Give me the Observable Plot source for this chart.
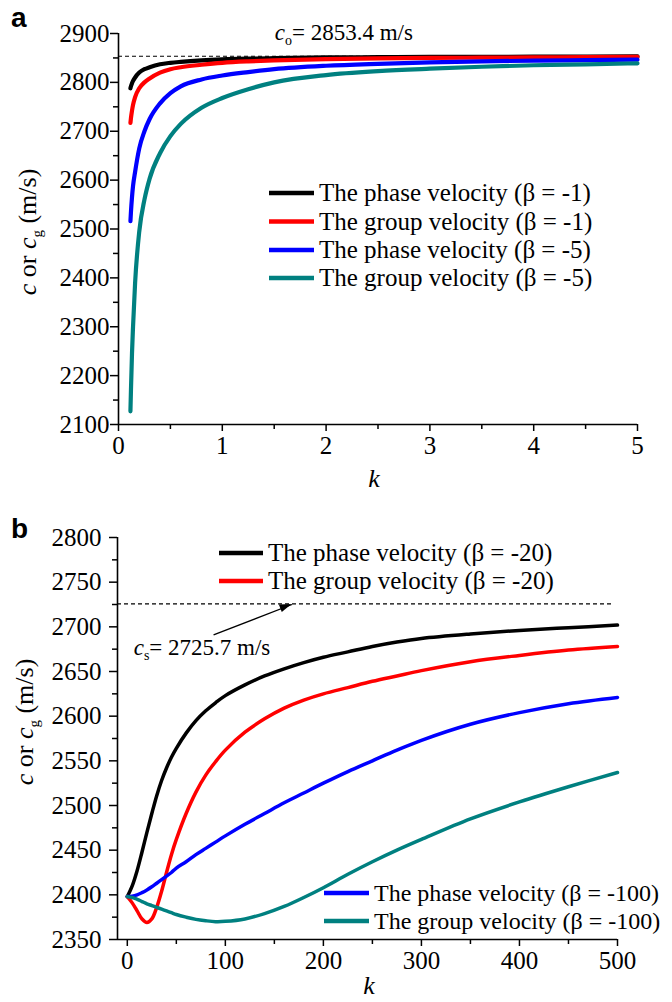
<!DOCTYPE html>
<html><head><meta charset="utf-8">
<script src="https://cdn.jsdelivr.net/npm/d3@7"></script>
<script src="https://cdn.jsdelivr.net/npm/@observablehq/plot@0.6"></script>
<style>
body{margin:0;background:#fff;}
#wrap{position:relative;width:672px;height:1002px;overflow:hidden;background:#fff;}
svg{display:block;}
</style></head><body><div id="wrap"></div>
<script>
// ---------- DATA: panel a ----------
const kA = [0.115, 0.12, 0.13, 0.14, 0.16, 0.2, 0.25, 0.3, 0.4, 0.5, 0.6, 0.8, 1.0, 1.25, 1.5, 2, 2.5, 3, 3.5, 4, 4.5, 5];
const phaseA1 = [2788, 2792, 2798, 2803, 2810, 2820, 2827, 2831, 2837, 2840, 2842, 2845, 2847, 2848.5, 2849.5, 2851, 2851.5, 2852, 2852, 2852.5, 2852.5, 2853];
const groupA1 = [2717, 2727, 2742, 2754, 2770, 2788, 2800, 2808, 2820, 2827, 2831, 2836, 2840, 2843, 2845, 2847.5, 2849, 2850, 2850.5, 2851, 2851.5, 2852];
const phaseA5 = [2516, 2535, 2565, 2588, 2617, 2665, 2700, 2725, 2757, 2778, 2792, 2806, 2814, 2821, 2827, 2834, 2838, 2841, 2843, 2844.5, 2845.5, 2846.5];
const groupA5 = [2127, 2170, 2245, 2300, 2390, 2495, 2560, 2603, 2655, 2690, 2715, 2748, 2768, 2786, 2800, 2815, 2823, 2828, 2832, 2835, 2837, 2839];
const legendA = ["The phase velocity (β = -1)", "The group velocity (β = -1)", "The phase velocity (β = -5)", "The group velocity (β = -5)"];
const cO = 2853.4;
const coLabel = {k: 1.51, c: 2885};
const xTicksA = [0, 1, 2, 3, 4, 5];
const xMinorA = [0.5, 1.5, 2.5, 3.5, 4.5];
const yTicksA = [2100, 2200, 2300, 2400, 2500, 2600, 2700, 2800, 2900];
const yMinorA = [2150, 2250, 2350, 2450, 2550, 2650, 2750, 2850];

// ---------- DATA: panel b ----------
const kB = [0, 5, 10, 15, 20, 25, 30, 35, 40, 45, 50, 60, 70, 80, 90, 100, 120, 140, 160, 180, 200, 225, 250, 275, 300, 350, 400, 450, 500];
const phaseB20 = [2398, 2410, 2427, 2448, 2470, 2491, 2511, 2528, 2542, 2554, 2564, 2581, 2595, 2606, 2615, 2623, 2635, 2645, 2653, 2660, 2666, 2672, 2678, 2683, 2687, 2692, 2696, 2699, 2702];
const groupB20 = [2398, 2391, 2382, 2373, 2369, 2373, 2386, 2404, 2425, 2445, 2462, 2491, 2515, 2534, 2549, 2562, 2582, 2597, 2609, 2618, 2625, 2632, 2639, 2645, 2651, 2661, 2668, 2674, 2678];
const phaseB100 = [2398, 2398.5, 2400, 2402.5, 2405.5, 2409, 2413, 2417, 2421, 2425, 2430, 2437, 2445, 2452, 2459, 2466, 2479, 2491, 2503, 2514, 2525, 2538, 2550, 2562, 2573, 2591, 2604, 2614, 2621];
const groupB100 = [2398, 2397, 2395, 2392.5, 2390, 2388, 2386, 2384, 2382, 2380, 2378, 2375, 2372.5, 2371, 2370, 2370.3, 2373, 2379, 2387, 2397, 2408, 2423, 2437, 2450, 2462, 2485, 2504, 2521, 2537];
const legendB = ["The phase velocity (β = -20)", "The group velocity (β = -20)", "The phase velocity (β = -100)", "The group velocity (β = -100)"];
const cS = 2725.7;
const cSExtent = [-10, 495];
const csLabel = {k: 7, c: 2668};
const arrowB = [{x1: 88, y1: 2691, x2: 168, y2: 2725}];
const xTicksB = [0, 100, 200, 300, 400, 500];
const xMinorB = [50, 150, 250, 350, 450];
const yTicksB = [2350, 2400, 2450, 2500, 2550, 2600, 2650, 2700, 2750, 2800];
const yMinorB = [2375, 2425, 2475, 2525, 2575, 2625, 2675, 2725, 2775];

const colors = ["#000000", "#ff0000", "#0000ff", "#008080"];
const SERIF = "'Liberation Serif', 'Times New Roman', Times, serif";
const SANS = "'Liberation Sans', Arial, Helvetica, sans-serif";

function rows(ks, vals) { return ks.map((k, i) => ({k, c: vals[i]})); }

function axes(xt, xm, yt, ym, xdom, ydom, yPad) {
  return [
    Plot.axisY({ticks: yt, tickSize: 8, tickPadding: yPad, fontSize: 25, strokeWidth: 1.5, label: null, tickFormat: d => String(d)}),
    Plot.axisY({ticks: ym, tickSize: 5, strokeWidth: 1.5, label: null, tickFormat: () => ""}),
    Plot.axisX({ticks: xt, tickSize: 7, tickPadding: 5, fontSize: 25, strokeWidth: 1.5, label: null, tickFormat: d => String(d)}),
    Plot.axisX({ticks: xm, tickSize: 5, strokeWidth: 1.5, label: null, tickFormat: () => ""}),
    Plot.ruleX([xdom[0]], {y1: ydom[0], y2: ydom[1], strokeWidth: 1.6}),
    Plot.ruleY([ydom[0]], {x1: xdom[0], x2: xdom[1], strokeWidth: 1.6})
  ];
}

function txt(g, x, y, size) {
  return g.append("text").attr("x", x).attr("y", y).attr("text-anchor", "start")
    .attr("font-size", size).attr("font-family", SERIF).attr("fill", "black");
}

function yLabel(g, x, y) {
  const t = g.append("text").attr("transform", `translate(${x},${y}) rotate(-90)`)
    .attr("text-anchor", "middle").attr("font-size", 26).attr("font-family", SERIF).attr("fill", "black");
  t.append("tspan").attr("font-style", "italic").text("c");
  t.append("tspan").text(" or ");
  t.append("tspan").attr("font-style", "italic").text("c");
  t.append("tspan").attr("font-size", 15).attr("dy", 6).text("g");
  t.append("tspan").attr("dy", -6).text(" (m/s)");
}

function legend(g, items, cols, x1, x2, ys, fs) {
  items.forEach((label, i) => {
    g.append("line").attr("x1", x1).attr("x2", x2).attr("y1", ys[i]).attr("y2", ys[i])
      .attr("stroke", cols[i]).attr("stroke-width", 4.5);
    txt(g, x2 + 5, ys[i], fs).attr("dy", "0.33em").text(label);
  });
}

function annotation(g, x, y, sub, rest) {
  const t = txt(g, x, y, 23);
  t.append("tspan").attr("font-style", "italic").text("c");
  t.append("tspan").attr("font-size", 14).attr("dy", 5).text(sub);
  t.append("tspan").attr("dy", -5).text(rest);
}

const wrap = document.getElementById("wrap");

// ---------- Panel a ----------
const seriesA = [phaseA1, groupA1, phaseA5, groupA5];
const xdA = [0, 5], ydA = [2100, 2900];
const plotA = Plot.plot({
  width: 672, height: 500,
  marginLeft: 118, marginRight: 35, marginTop: 33, marginBottom: 76,
  style: {fontFamily: SERIF, fontSize: "25px", background: "white", overflow: "visible", color: "black"},
  x: {domain: xdA}, y: {domain: ydA},
  marks: [
    Plot.ruleY([cO], {x1: xdA[0], x2: xdA[1], stroke: "black", strokeWidth: 1.1, strokeDasharray: "4,3"}),
    ...seriesA.map((v, j) => Plot.line(rows(kA, v), {x: "k", y: "c", stroke: colors[j], strokeWidth: 4.2, curve: "monotone-x"})),
    ...axes(xTicksA, xMinorA, yTicksA, yMinorA, xdA, ydA, 1)
  ]
});
wrap.appendChild(plotA);
{
  const g = d3.select(plotA).append("g");
  const sx = plotA.scale("x"), sy = plotA.scale("y");
  g.append("text").attr("x", 11).attr("y", 27).attr("text-anchor", "start").attr("font-family", SANS)
    .attr("font-weight", "bold").attr("font-size", 28).text("a");
  yLabel(g, 36, 232);
  g.append("text").attr("x", 374).attr("y", 487).attr("text-anchor", "middle").attr("font-style", "italic")
    .attr("font-size", 26).attr("font-family", SERIF).text("k");
  annotation(g, sx.apply(coLabel.k), sy.apply(coLabel.c), "o", "= 2853.4 m/s");
  legend(g, legendA, colors, 269, 314, [193, 221.5, 250, 278], 25);
}

// ---------- Panel b ----------
const seriesB = [phaseB20, groupB20, phaseB100, groupB100];
const xdB = [-10, 500], ydB = [2350, 2800];
const plotB = Plot.plot({
  width: 672, height: 502,
  marginLeft: 117, marginRight: 55, marginTop: 37, marginBottom: 63,
  style: {fontFamily: SERIF, fontSize: "25px", background: "white", overflow: "visible", color: "black"},
  x: {domain: xdB}, y: {domain: ydB},
  marks: [
    Plot.ruleY([cS], {x1: cSExtent[0], x2: cSExtent[1], stroke: "black", strokeWidth: 1.1, strokeDasharray: "4,3"}),
    Plot.link(arrowB, {x1: "x1", y1: "y1", x2: "x2", y2: "y2", stroke: "black", strokeWidth: 1.3}),
    ...seriesB.map((v, j) => Plot.line(rows(kB, v), {x: "k", y: "c", stroke: colors[j], strokeWidth: 3.5, curve: "catmull-rom"})),
    ...axes(xTicksB, xMinorB, yTicksB, yMinorB, xdB, ydB, 8)
  ]
});
wrap.appendChild(plotB);
{
  const g = d3.select(plotB).append("g");
  const sx = plotB.scale("x"), sy = plotB.scale("y");
  g.append("text").attr("x", 11).attr("y", 38).attr("text-anchor", "start").attr("font-family", SANS)
    .attr("font-weight", "bold").attr("font-size", 28).text("b");
  yLabel(g, 33, 222);
  g.append("text").attr("x", 369).attr("y", 494).attr("text-anchor", "middle").attr("font-style", "italic")
    .attr("font-size", 26).attr("font-family", SERIF).text("k");
  annotation(g, sx.apply(csLabel.k), sy.apply(csLabel.c), "s", "= 2725.7 m/s");
  // filled arrow head at the end of the arrow link
  const a = arrowB[0];
  const X1 = sx.apply(a.x1), Y1 = sy.apply(a.y1), X2 = sx.apply(a.x2), Y2 = sy.apply(a.y2);
  const ang = Math.atan2(Y2 - Y1, X2 - X1), L = 12, W = 4;
  const bx = X2 - L * Math.cos(ang), by = Y2 - L * Math.sin(ang);
  const px = -Math.sin(ang) * W, py = Math.cos(ang) * W;
  g.append("path").attr("d", `M${X2},${Y2}L${bx + px},${by + py}L${bx - px},${by - py}Z`).attr("fill", "black");
  legend(g, legendB.slice(0, 2), colors.slice(0, 2), 219, 263, [53, 81], 25);
  legend(g, legendB.slice(2), colors.slice(2), 324, 369, [393, 421], 24);
}
</script></body></html>
